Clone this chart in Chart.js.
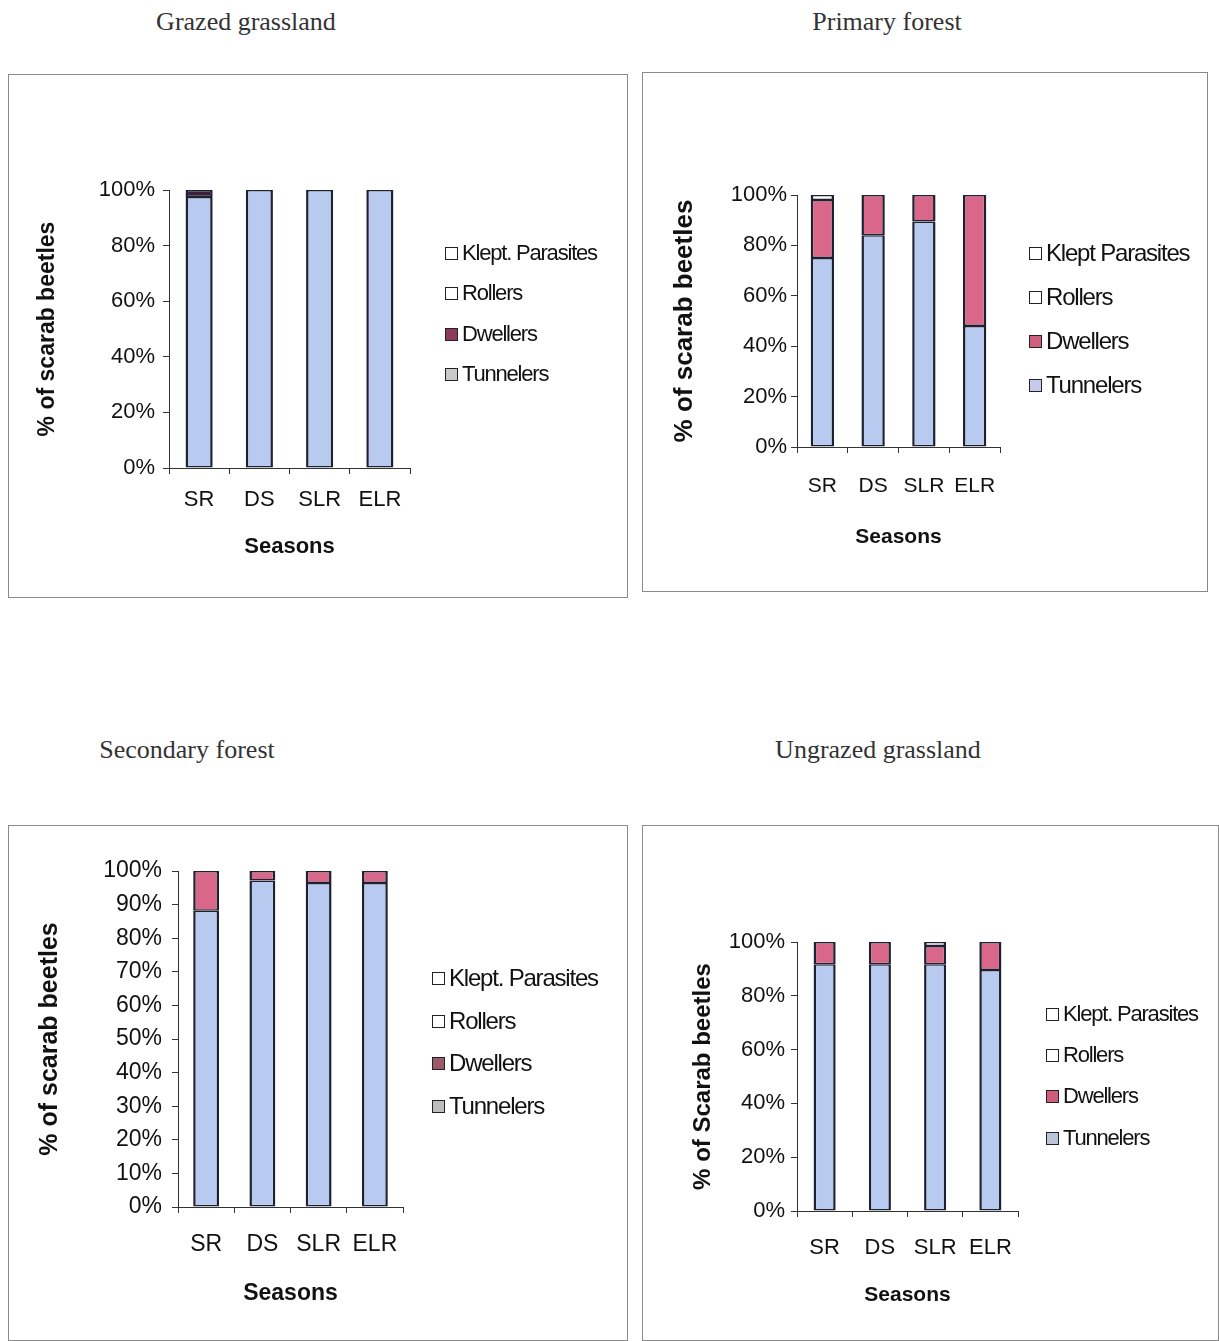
<!DOCTYPE html>
<html>
<head>
<meta charset="utf-8">
<script src="https://cdn.jsdelivr.net/npm/chart.js@4.4.1/dist/chart.umd.min.js"></script>
<style>
  body { margin: 0; background: #fff; width: 1219px; height: 1341px; position: relative; overflow: hidden; }
  .title { position: absolute; font-family: "Liberation Serif", "Times New Roman", serif; color: #333; white-space: nowrap; transform: translate(-50%, -50%); }
  .box { position: absolute; outline: 1px solid #8a8a8a; }
  .box canvas { position: absolute; left: 0; top: 0; }
  .legend { position: absolute; font-family: "Liberation Sans", Arial, sans-serif; color: #111; }
  .legend div { position: absolute; white-space: nowrap; display: flex; align-items: center; transform: translateY(-50%); }
  .legend span.sw { display: inline-block; width: 11px; height: 11px; border: 1.5px solid #222; margin-right: 4px; }
</style>
</head>
<body>
<script>
// Saisons et groupes fonctionnels
const seasons = ["SR", "DS", "SLR", "ELR"];

// Grazed grassland
const grazedTunnelers = [97.5, 100, 100, 100];
const grazedDwellers = [2.5, 0, 0, 0];
const grazedRollers = [0, 0, 0, 0];
const grazedKlept = [0, 0, 0, 0];

// Primary forest
const primaryTunnelers = [75, 84, 89.5, 48];
const primaryDwellers = [23, 16, 10.5, 52];
const primaryRollers = [2, 0, 0, 0];
const primaryKlept = [0, 0, 0, 0];

// Secondary forest
const secondaryTunnelers = [88.2, 97.2, 96.4, 96.4];
const secondaryDwellers = [11.8, 2.8, 3.6, 3.6];
const secondaryRollers = [0, 0, 0, 0];
const secondaryKlept = [0, 0, 0, 0];

// Ungrazed grassland
const ungrazedTunnelers = [91.7, 91.7, 91.7, 89.6];
const ungrazedDwellers = [8.3, 8.3, 6.8, 10.4];
const ungrazedRollers = [0, 0, 1.5, 0];
const ungrazedKlept = [0, 0, 0, 0];

const panels = [
  {
    title: "Grazed grassland", titleX: 246, titleY: 22,
    box: [9, 75, 618, 522], pad: { left: 0, top: 115, right: 217, bottom: 37 },
    yWidth: 160, xHeight: 92, step: 20,
    yTitle: "% of scarab beetles", yTitleSize: 23, yTitlePad: 25, yTickSize: 22, yTickPad: 8,
    xTickSize: 22, xTickPad: 13, xTitleSize: 22, barPct: 0.45,
    dwellerColor: "#3a1e3a",
    legendNames: ["Klept. Parasites", "Rollers", "Dwellers", "Tunnelers"],
    legendX: 445, legendY: [253, 293, 334, 374], legendSize: 22,
    legendColors: ["#ffffff", "#ffffff", "#8e3a5a", "#c9c9c9"],
    data: [grazedTunnelers, grazedDwellers, grazedRollers, grazedKlept],
  },
  {
    title: "Primary forest", titleX: 887, titleY: 22,
    box: [643, 73, 564, 518], pad: { left: 0, top: 122, right: 207, bottom: 41 },
    yWidth: 154, xHeight: 103, step: 20,
    yTitle: "% of scarab beetles", yTitleSize: 26, yTitlePad: 26, yTickSize: 22, yTickPad: 4,
    xTickSize: 21, xTickPad: 21, xTitleSize: 21, barPct: 0.46,
    dwellerColor: "#d8678a",
    legendNames: ["Klept Parasites", "Rollers", "Dwellers", "Tunnelers"],
    legendX: 1029, legendY: [253, 297, 341, 385], legendSize: 24,
    legendColors: ["#ffffff", "#ffffff", "#d0607e", "#c9c9ee"],
    data: [primaryTunnelers, primaryDwellers, primaryRollers, primaryKlept],
  },
  {
    title: "Secondary forest", titleX: 187, titleY: 750,
    box: [9, 826, 618, 514], pad: { left: 0, top: 45, right: 224, bottom: 33 },
    yWidth: 169, xHeight: 100, step: 10,
    yTitle: "% of scarab beetles", yTitleSize: 25, yTitlePad: 26, yTickSize: 23, yTickPad: 10,
    xTickSize: 23, xTickPad: 18, xTitleSize: 23, barPct: 0.46,
    dwellerColor: "#d8678a",
    legendNames: ["Klept. Parasites", "Rollers", "Dwellers", "Tunnelers"],
    legendX: 432, legendY: [978, 1021, 1063, 1106], legendSize: 24,
    legendColors: ["#ffffff", "#ffffff", "#9a5a6a", "#bdbdbd"],
    data: [secondaryTunnelers, secondaryDwellers, secondaryRollers, secondaryKlept],
  },
  {
    title: "Ungrazed grassland", titleX: 878, titleY: 750,
    box: [643, 826, 575, 514], pad: { left: 0, top: 116, right: 200, bottom: 32 },
    yWidth: 154, xHeight: 97, step: 20,
    yTitle: "% of Scarab beetles", yTitleSize: 24, yTitlePad: 46, yTickSize: 22, yTickPad: 6,
    xTickSize: 22, xTickPad: 18, xTitleSize: 21, barPct: 0.4,
    dwellerColor: "#d8678a",
    legendNames: ["Klept. Parasites", "Rollers", "Dwellers", "Tunnelers"],
    legendX: 1046, legendY: [1014, 1055, 1096, 1138], legendSize: 22,
    legendColors: ["#ffffff", "#ffffff", "#cf5c78", "#b9c4d8"],
    data: [ungrazedTunnelers, ungrazedDwellers, ungrazedRollers, ungrazedKlept],
  },
];

const seriesNames = ["Tunnelers", "Dwellers", "Rollers", "Klept. Parasites"];

const font = "'Liberation Sans', Arial, sans-serif";

panels.forEach((p, i) => {
  // titre du panneau
  const t = document.createElement("div");
  t.className = "title";
  t.style.left = p.titleX + "px";
  t.style.top = p.titleY + "px";
  t.style.fontSize = "26px";
  t.textContent = p.title;
  document.body.appendChild(t);

  const box = document.createElement("div");
  box.className = "box";
  box.style.left = p.box[0] + "px";
  box.style.top = p.box[1] + "px";
  box.style.width = p.box[2] + "px";
  box.style.height = p.box[3] + "px";
  const canvas = document.createElement("canvas");
  canvas.id = "chart" + i;
  canvas.width = p.box[2];
  canvas.height = p.box[3];
  box.appendChild(canvas);
  document.body.appendChild(box);

  // légende
  const leg = document.createElement("div");
  leg.className = "legend";
  p.legendNames.forEach((name, k) => {
    const item = document.createElement("div");
    item.style.left = p.legendX + "px";
    item.style.top = p.legendY[k] + "px";
    item.style.fontSize = p.legendSize + "px";
    item.style.letterSpacing = "-1.2px";
    item.innerHTML = '<span class="sw" style="background:' + p.legendColors[k] + '"></span>' + name;
    leg.appendChild(item);
  });
  document.body.appendChild(leg);

  const colors = ["#b8caf0", p.dwellerColor, "#ffffff", "#ffffff"];
  const datasets = p.data.map((values, k) => ({
    label: seriesNames[k],
    // les segments vides ne sont pas dessinés
    data: values.map((v) => (v === 0 ? null : v)),
    backgroundColor: colors[k],
    borderColor: "#1e2230",
    borderWidth: { left: 2.5, right: 2.5, top: 1.5, bottom: 1.5 },
    borderSkipped: false,
    barPercentage: p.barPct,
    categoryPercentage: 1,
  }));

  new Chart(canvas.getContext("2d"), {
    type: "bar",
    data: { labels: seasons, datasets: datasets },
    options: {
      responsive: false,
      animation: false,
      layout: { padding: p.pad },
      plugins: { legend: { display: false }, tooltip: { enabled: false } },
      scales: {
        x: {
          stacked: true,
          afterFit: (scale) => { scale.height = p.xHeight; },
          grid: { drawOnChartArea: false, tickLength: 6, color: "#333", offset: true },
          border: { display: true, color: "#333", width: 1 },
          ticks: { color: "#111", font: { family: font, size: p.xTickSize }, padding: p.xTickPad, autoSkip: false, maxRotation: 0 },
          title: { display: true, text: "Seasons", color: "#111", font: { family: font, size: p.xTitleSize, weight: "bold" }, padding: { top: 0, bottom: 0 } },
        },
        y: {
          stacked: true,
          min: 0,
          max: 100,
          afterFit: (scale) => { scale.width = p.yWidth; },
          grid: { drawOnChartArea: false, tickLength: 6, color: "#333" },
          border: { display: true, color: "#333", width: 1 },
          ticks: {
            stepSize: p.step,
            color: "#111",
            font: { family: font, size: p.yTickSize },
            padding: p.yTickPad,
            callback: (v) => v + "%",
          },
          title: { display: true, text: p.yTitle, color: "#111", font: { family: font, size: p.yTitleSize, weight: "bold" }, padding: { top: p.yTitlePad, bottom: 0 } },
        },
      },
    },
  });
});
</script>
</body>
</html>
